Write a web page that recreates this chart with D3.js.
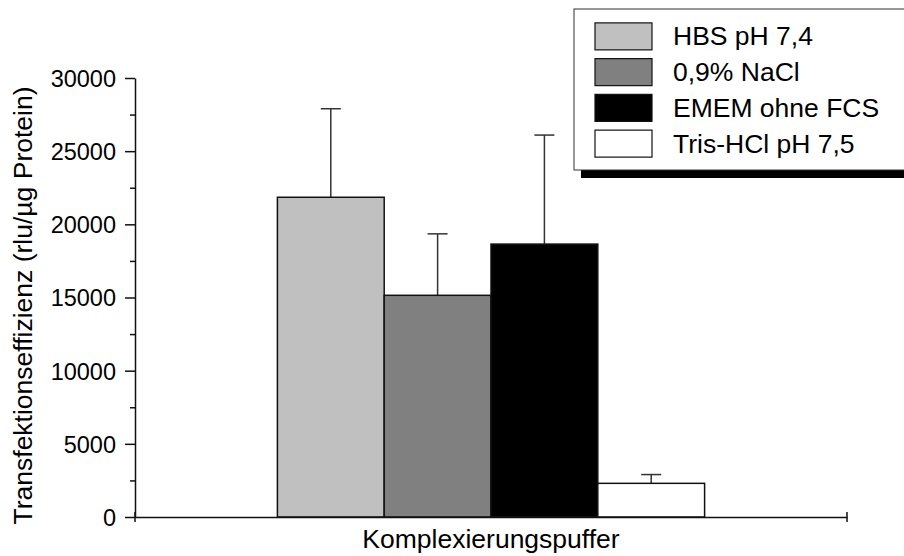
<!DOCTYPE html>
<html><head><meta charset="utf-8">
<script src="https://cdn.jsdelivr.net/npm/d3@7"></script>
<style>
html,body{margin:0;padding:0;background:#fff;}
text{font-family:"Liberation Sans",Arial,sans-serif;fill:#000;}
</style></head>
<body><svg id="c" width="904" height="556"></svg>
<script>
const categories = ["Komplexierungspuffer"];
const seriesNames = ["HBS pH 7,4", "0,9% NaCl", "EMEM ohne FCS", "Tris-HCl pH 7,5"];
const seriesValues = [21850, 15150, 18650, 2300];
const seriesErrors = [6050, 4200, 7450, 600];
const seriesColors = ["#c0c0c0", "#808080", "#000000", "#ffffff"];
const yTicks = [0, 5000, 10000, 15000, 20000, 25000, 30000];
const yMinorTicks = [2500, 7500, 12500, 17500, 22500, 27500];
const yLabel = "Transfektionseffizienz (rlu/µg Protein)";

const svg = d3.select("#c");
const L = 135, R = 847, T = 78, B = 517;
const FS = 26.5, TFS = 23.5;

const y = d3.scaleLinear().domain([0, 30000]).range([B, T]);
const x0 = d3.scaleBand().domain(categories).range([L, R]).paddingInner(0).paddingOuter(1/3);
const x1 = d3.scaleBand().domain(seriesNames).range([0, x0.bandwidth()]).padding(0);

// bars
const g = svg.append("g");
categories.forEach(cat => {
  seriesNames.forEach((s, i) => {
    const bx = x0(cat) + x1(s);
    const cx = bx + x1.bandwidth() / 2;
    g.append("line").attr("x1", cx).attr("x2", cx)
      .attr("y1", y(seriesValues[i])).attr("y2", y(seriesValues[i] + seriesErrors[i]))
      .attr("stroke", "#333").attr("stroke-width", 1.5);
    g.append("line").attr("x1", cx - 10).attr("x2", cx + 10)
      .attr("y1", y(seriesValues[i] + seriesErrors[i])).attr("y2", y(seriesValues[i] + seriesErrors[i]))
      .attr("stroke", "#333").attr("stroke-width", 1.5);
    g.append("rect").attr("x", bx).attr("y", y(seriesValues[i]))
      .attr("width", x1.bandwidth()).attr("height", y(0) - y(seriesValues[i]))
      .attr("fill", seriesColors[i]).attr("stroke", "#111").attr("stroke-width", 1.5);
  });
});

// y axis
const yAxis = svg.append("g").attr("transform", `translate(${L},0)`)
  .call(d3.axisLeft(y).tickValues(yTicks).tickSize(10).tickSizeOuter(0).tickPadding(9).tickFormat(d3.format("d")));
yAxis.selectAll("text").style("font-size", TFS + "px").attr("dy", "0.36em");
yAxis.select(".domain").attr("stroke", "#111").attr("stroke-width", 1.5);
yAxis.selectAll(".tick line").attr("stroke", "#111").attr("stroke-width", 1.5);
const yMinor = svg.append("g").attr("transform", `translate(${L},0)`)
  .call(d3.axisLeft(y).tickValues(yMinorTicks).tickSize(5).tickSizeOuter(0).tickFormat(""));
yMinor.select(".domain").remove();
yMinor.selectAll(".tick line").attr("stroke", "#111").attr("stroke-width", 1.5);

// x axis
const xAxis = svg.append("g").attr("transform", `translate(0,${B})`)
  .call(d3.axisBottom(x0).tickSize(0).tickSizeOuter(0).tickPadding(12));
xAxis.selectAll("text").style("font-size", FS + "px").attr("dy", "0.71em");
xAxis.select(".domain").attr("stroke", "#111").attr("stroke-width", 1.5);
[L, R].forEach(px => {
  svg.append("line").attr("x1", px).attr("x2", px).attr("y1", B - 5).attr("y2", B + 5)
    .attr("stroke", "#111").attr("stroke-width", 1.5);
});

// y label
svg.append("text").attr("transform", `translate(32,${(T + B) / 2 + 8}) rotate(-90)`)
  .attr("text-anchor", "middle").style("font-size", FS + "px").text(yLabel);

// legend
const lg = svg.append("g");
lg.append("rect").attr("x", 581).attr("y", 17).attr("width", 340).attr("height", 161).attr("fill", "#000");
lg.append("rect").attr("x", 574).attr("y", 9).attr("width", 340).attr("height", 161)
  .attr("fill", "#fff").attr("stroke", "#333").attr("stroke-width", 1);
const ly = d3.scaleBand().domain(seriesNames).range([18.5, 161.5]);
seriesNames.forEach((s, i) => {
  const cy = ly(s) + ly.bandwidth() / 2;
  lg.append("rect").attr("x", 595).attr("y", cy - 13.5).attr("width", 57).attr("height", 27)
    .attr("fill", seriesColors[i]).attr("stroke", "#111").attr("stroke-width", 1.2);
  lg.append("text").attr("x", 673).attr("y", cy + 9).style("font-size", FS + "px").text(s);
});
</script></body></html>
